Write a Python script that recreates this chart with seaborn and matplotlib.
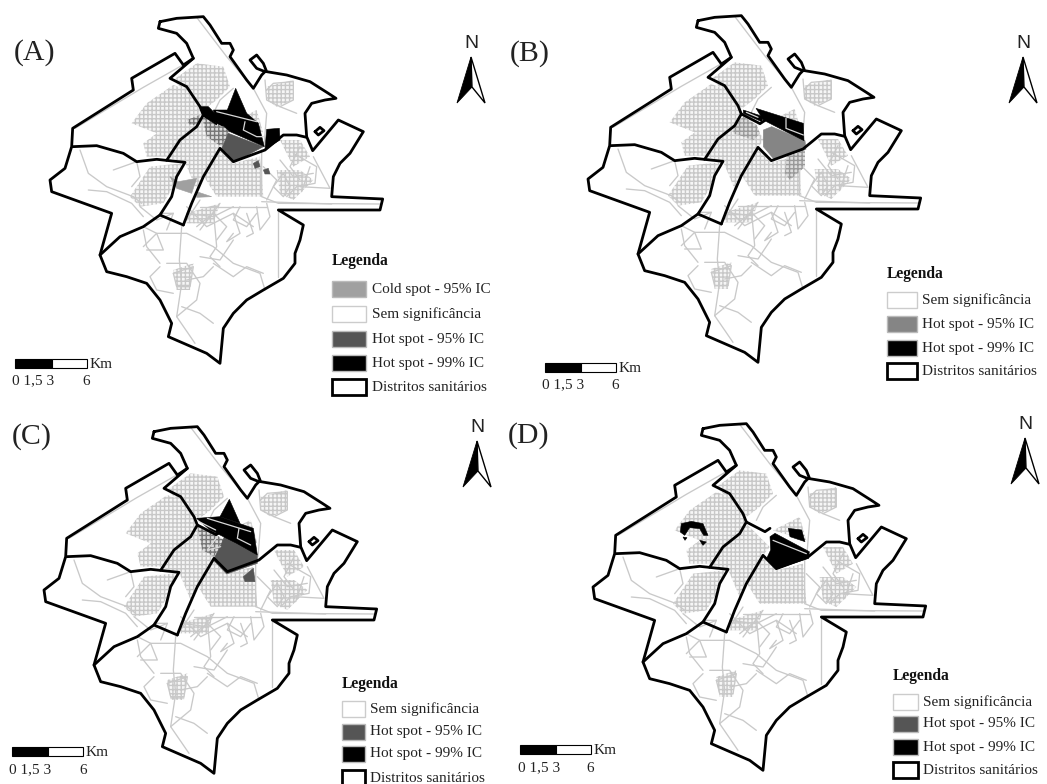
import matplotlib
matplotlib.use("Agg")
import matplotlib.pyplot as plt
from matplotlib.patches import Polygon, Rectangle
import pandas as pd
import seaborn as sns

sns.set_theme(style="white")
plt.rcParams["font.family"] = ["Liberation Serif", "DejaVu Serif"]
plt.rcParams["hatch.linewidth"] = 1.0

# ---- map geometry (3x map units, panel A as base) ----
outer = [(480,65),(530,55),(610,50),(630,75),(665,130),(690,130),(700,150),(690,170),(740,240),(760,265),
 (785,225),(795,215),(770,205),(750,180),(770,165),(790,190),(800,215),(860,225),(930,245),(985,280),(1008,295),
 (975,300),(935,310),(915,340),(920,410),(938,452),(1015,360),(1090,395),(1050,460),(1020,490),(1000,530),(995,590),
 (1148,597),(1140,630),(835,630),(910,675),(900,720),(885,760),(885,790),(850,835),(790,870),(740,900),(700,940),
 (670,985),(660,1090),(620,1060),(505,1010),(515,970),(480,900),(440,850),(380,830),(320,815),(300,765),(335,640),
 (155,575),(150,540),(195,505),(215,440),(218,385),(400,270),(395,235),(525,160),(550,195),(580,175),(560,130),
 (530,100),(475,85),(480,65)]
inner_lines = [
 [(218,440),(290,437),(370,460),(410,485),(470,478),(555,487),(530,530),(515,590),(480,645),(550,675)],
 [(500,481),(540,420),(590,380),(610,345),(600,320),(560,260),(510,235),(580,175)],
 [(550,675),(575,610),(610,530),(660,445),(700,485),(795,450),(850,405),(890,405),(920,412)],
 [(300,765),(360,710),(430,680),(480,645)],
 [(945,395),(960,382),(972,392),(955,405),(945,395)],
 [(610,345),(666,374),(681,364)],
]
roads = [
 [(590,52),(680,170),(760,265),(800,340),(792,440)],
 [(225,385),(430,262),(575,180)],
 [(785,450),(785,590),(835,610),(1140,612)],
 [(995,612),(785,605)],
 [(835,630),(835,830)],
 [(545,680),(538,780),(545,850),(530,950),(585,1030)],
 [(430,680),(470,700),(560,700),(640,740),(700,790),(780,820),(795,870)],
 [(240,450),(265,520),(320,560),(400,590),(425,610)],
 [(265,570),(320,575),(395,610),(430,650)],
 [(340,510),(410,485),(420,530),(395,560)],
 [(430,740),(470,700),(490,750),(440,750)],
 [(480,800),(450,830),(470,870),(520,880)],
 [(500,790),(560,790),(600,850),(590,900),(530,950)],
 [(520,820),(580,800),(570,860),(530,860),(520,820)],
 [(640,630),(650,740),(630,770),(660,800)],
 [(700,640),(720,700),(680,725),(700,700)],
 [(740,640),(760,700),(740,710)],
 [(800,610),(810,650),(780,690),(770,620)],
 [(880,460),(950,500),(945,550),(890,560),(860,590)],
 [(940,470),(990,565),(900,560)],
 [(850,520),(820,560),(850,590),(870,560),(850,520)],
 [(600,620),(800,620)],
 [(560,640),(640,650),(700,620)],
 [(700,720),(660,780),(600,770)],
 [(795,240),(800,300),(840,320),(880,300),(880,245),(820,250),(800,270)],
 [(840,320),(890,340)],
 [(640,340),(660,300),(700,265)],
 [(560,620),(620,680),(700,640),(760,680)],
 [(590,680),(640,640),(680,680),(650,720)],
 [(720,620),(700,660),(740,680),(770,640)],
 [(600,600),(560,660)],
 [(660,610),(600,690)],
 [(790,500),(830,540),(800,600)],
 [(840,480),(880,530),(940,520)],
 [(900,440),(870,500),(900,540)],
 [(930,500),(905,575)],
 [(500,690),(520,640),(480,640)],
 [(640,790),(700,830),(740,800),(790,820)],
 [(560,840),(610,830),(640,800)],
 [(545,920),(600,940),(640,970)],
 [(430,690),(440,740),(480,790)],
 [(420,620),(470,660),(520,640)],
]
street_patches = [
 [(395,370),(440,310),(520,255),(560,270),(600,325),(610,345),(590,380),(500,470),(440,470),(430,430),(470,400)],
 [(520,240),(590,190),(670,200),(690,260),(650,300),(610,330)],
 [(500,472),(610,350),(680,420),(660,445),(590,570),(555,487)],
 [(390,590),(450,500),(545,490),(520,560),(490,610),(420,620)],
 [(612,530),(660,450),(700,490),(780,470),(790,590),(650,590)],
 [(560,640),(660,610),(640,670),(560,670)],
 [(800,260),(880,240),(880,300),(830,320),(800,300)],
 [(840,420),(900,420),(930,470),(880,500)],
 [(830,510),(900,510),(940,540),(880,600),(840,580)],
 [(520,810),(580,790),(570,870),(530,870)],
 [(690,370),(770,330),(790,400)],
]

# ---- hot and cold spots per panel ----
cold_a = [[(510,530),(535,545),(590,535),(575,580),(530,565)],[(590,575),(635,590),(590,592)]]
shade_a = [[(605,345),(650,350),(690,395),(665,440),(620,410)],[(560,360),(600,345),(600,375),(570,375)]]
hot95_a = [[(685,400),(790,440),(700,488),(665,445)],[(760,490),(775,482),(780,500),(765,505)],
           [(790,510),(805,505),(810,522),(795,522)]]
hot99_a = [[(707,265),(740,340),(680,335)],[(640,330),(680,330),(740,340),(775,370),(793,440),(690,395),(650,360)],
           [(800,388),(838,385),(840,420),(795,448)],[(600,320),(612,350),(650,375),(655,350),(625,320)]]
streets_a = [[(650,335),(770,365)],[(735,365),(730,390),(770,410),(790,410)],[(620,350),(665,375)]]

hot95_b = [[(676,393),(701,383),(801,425),(804,451),(708,481),(676,443)]]
shade_b = [[(586,383),(616,353),(656,378),(666,403),(646,423),(586,403)],
           [(746,473),(801,453),(801,503),(756,543),(741,523)]]
hot99_b = [[(654,328),(796,373),(798,425),(744,398),(676,363)],[(616,333),(676,353),(671,368),(616,343)]]
streets_b = [[(744,358),(744,388),(796,408)],[(625,340),(660,355)]]

hot95_c = [[(683,400),(693,375),(790,435),(790,460),(698,492),(658,450)],[(748,500),(778,475),(783,515),(753,515)]]
shade_c = [[(610,350),(660,370),(690,390),(660,440),(625,420)]]
hot99_c = [[(706,268),(738,340),(678,320)],[(608,325),(678,320),(778,355),(790,435),(728,400),(648,360)]]
streets_c = [[(640,325),(770,365)],[(735,355),(730,385),(770,405)],[(615,335),(665,360)],[(670,380),(640,420),(680,410)]]

hot95_d = []
hot99_d = [[(681,389),(696,379),(799,434),(797,454),(701,486),(671,454),(683,429)],
           [(736,364),(776,369),(786,404),(741,389)],
           [(415,350),(445,343),(480,350),(495,385),(482,385),(470,365),(440,362),(425,385),(412,375)],
           [(470,400),(490,405),(480,415)],[(420,390),(432,392),(426,400)]]
streets_d = [[(690,400),(790,440)]]

# ---- legends and labels ----
labels_a = ["Cold spot - 95% IC", "Sem significância", "Hot spot - 95% IC", "Hot spot - 99% IC", "Distritos sanitários"]
labels_bcd = labels_a[1:]
colors_a = ["#a0a0a0", "#ffffff", "#555555", "#000000", "#ffffff"]
colors_b = ["#ffffff", "#858585", "#000000", "#ffffff"]
colors_cd = ["#ffffff", "#555555", "#000000", "#ffffff"]
scale_ticks = ["0 1,5 3", "6"]

panels = [
 dict(name="(A)", off=(0,0), lab=(14,53), north=(471,57), cold=cold_a, hot95=hot95_a, hot99=hot99_a, streets=streets_a,
      c95="#555555", shade=shade_a, shade_col="#777777", leg=(332,261,366,372,[289,314,339,363,387]), labels=labels_a, colors=colors_a,
      bar=(15,52,87,359,381,12,86)),
 dict(name="(B)", off=(538,-1), lab=(510,54), north=(1023,57), cold=[], hot95=hot95_b, hot99=hot99_b, streets=streets_b,
      c95="#858585", shade=shade_b, shade_col="#999999", leg=(887,274,917,922,[300,324,348,371]), labels=labels_bcd, colors=colors_b,
      bar=(545,581,616,363,385,542,615)),
 dict(name="(C)", off=(-6,410), lab=(12,437), north=(477,441), cold=[], hot95=hot95_c, hot99=hot99_c, streets=streets_c,
      c95="#555555", shade=shade_c, shade_col="#777777", leg=(342,684,365,370,[709,732,754,778]), labels=labels_bcd, colors=colors_cd,
      bar=(12,48,83,747,770,9,83)),
 dict(name="(D)", off=(543,407), lab=(508,436), north=(1025,438), cold=[], hot95=hot95_d, hot99=hot99_d, streets=streets_d,
      c95="#555555", shade=[], shade_col="#777777", leg=(893,676,918,923,[702,724,747,770]), labels=labels_bcd, colors=colors_cd,
      bar=(520,556,591,745,768,518,590)),
]

fig = plt.figure(figsize=(10.47, 7.84), dpi=100)
ax = fig.add_axes([0, 0, 1, 1])
ax.set_xlim(0, 1047)
ax.set_ylim(784, 0)
ax.axis("off")


def to_px(pts, off):
    return [(x / 3 + off[0], y / 3 + off[1]) for x, y in pts]


def draw_lines(lines, off, color, lw, zorder):
    rows = [(i, px, py) for i, ln in enumerate(lines) for px, py in to_px(ln, off)]
    df = pd.DataFrame(rows, columns=["id", "x", "y"])
    sns.lineplot(data=df, x="x", y="y", units="id", estimator=None, sort=False, color=color,
                 lw=lw, ax=ax, legend=False, zorder=zorder, solid_joinstyle="round")


def fill(polys, off, color, zorder):
    for p in polys:
        ax.add_patch(Polygon(to_px(p, off), closed=True, facecolor=color, edgecolor=color, lw=0.4, zorder=zorder))


for p in panels:
    off = p["off"]
    for patch in street_patches:
        ax.add_patch(Polygon(to_px(patch, off), closed=True, facecolor="#f6f6f6", edgecolor="#c8c8c8",
                             lw=0, hatch="++++", zorder=1))
    draw_lines(roads, off, "#c9c9c9", 0.95, 2)
    for s in p["shade"]:
        ax.add_patch(Polygon(to_px(s, off), closed=True, facecolor="#dddddd", edgecolor=p["shade_col"],
                             lw=0, hatch="++++", zorder=3))
    fill(p["cold"], off, "#a0a0a0", 3)
    fill(p["hot95"], off, p["c95"], 3)
    fill(p["hot99"], off, "#000000", 3)
    draw_lines(p["streets"], off, "#d8d8d8", 0.9, 4)
    draw_lines(inner_lines, off, "#000000", 2.0, 5)
    draw_lines([outer], off, "#000000", 2.0, 5)

    ax.text(p["lab"][0], p["lab"][1], p["name"], fontsize=21.5, color="#222222", ha="left", va="center")

    # north arrow
    nx, ny = p["north"]
    ax.text(nx, ny - 14, "N", family="Liberation Sans", fontsize=14, color="#222222", ha="center", va="center")
    ax.add_patch(Polygon([(nx, ny), (nx + 1, ny + 30), (nx - 14, ny + 46)], closed=True, facecolor="black", edgecolor="black", lw=0.6))
    ax.add_patch(Polygon([(nx, ny), (nx + 1, ny + 30), (nx + 14, ny + 46)], closed=True, facecolor="white", edgecolor="black", lw=1.0))

    # scale bar
    x0, x1, x2, ytop, ylab, xl0, xl6 = p["bar"]
    ax.add_patch(Rectangle((x0, ytop), x1 - x0, 9, facecolor="black", edgecolor="black", lw=0.8))
    ax.add_patch(Rectangle((x1, ytop), x2 - x1, 9, facecolor="white", edgecolor="black", lw=0.8))
    ax.text(x2 + 3, ytop + 5, "Km", fontsize=11, color="#222222", ha="left", va="center")
    ax.text(xl0, ylab, scale_ticks[0], fontsize=11, color="#222222", ha="left", va="center")
    ax.text(xl6, ylab, scale_ticks[1], fontsize=11, color="#222222", ha="center", va="center")

    # legend
    lx, ly, bx, tx, rows = p["leg"]
    ax.text(lx, ly, "Legenda", fontsize=11.2, fontweight="bold", color="#111111", ha="left", va="center")
    for lab, col, y in zip(p["labels"], p["colors"], rows):
        thick = lab.startswith("Distritos")
        edge = "black" if thick else ("#cccccc" if col == "#ffffff" else "#bbbbbb")
        ax.add_patch(Rectangle((lx, y - 8), bx - lx, 16, facecolor=col, edgecolor=edge, lw=2.0 if thick else 1.0))
        ax.text(tx, y, lab, fontsize=11, color="#222222", ha="left", va="center")

fig.savefig("out.png", dpi=100)
